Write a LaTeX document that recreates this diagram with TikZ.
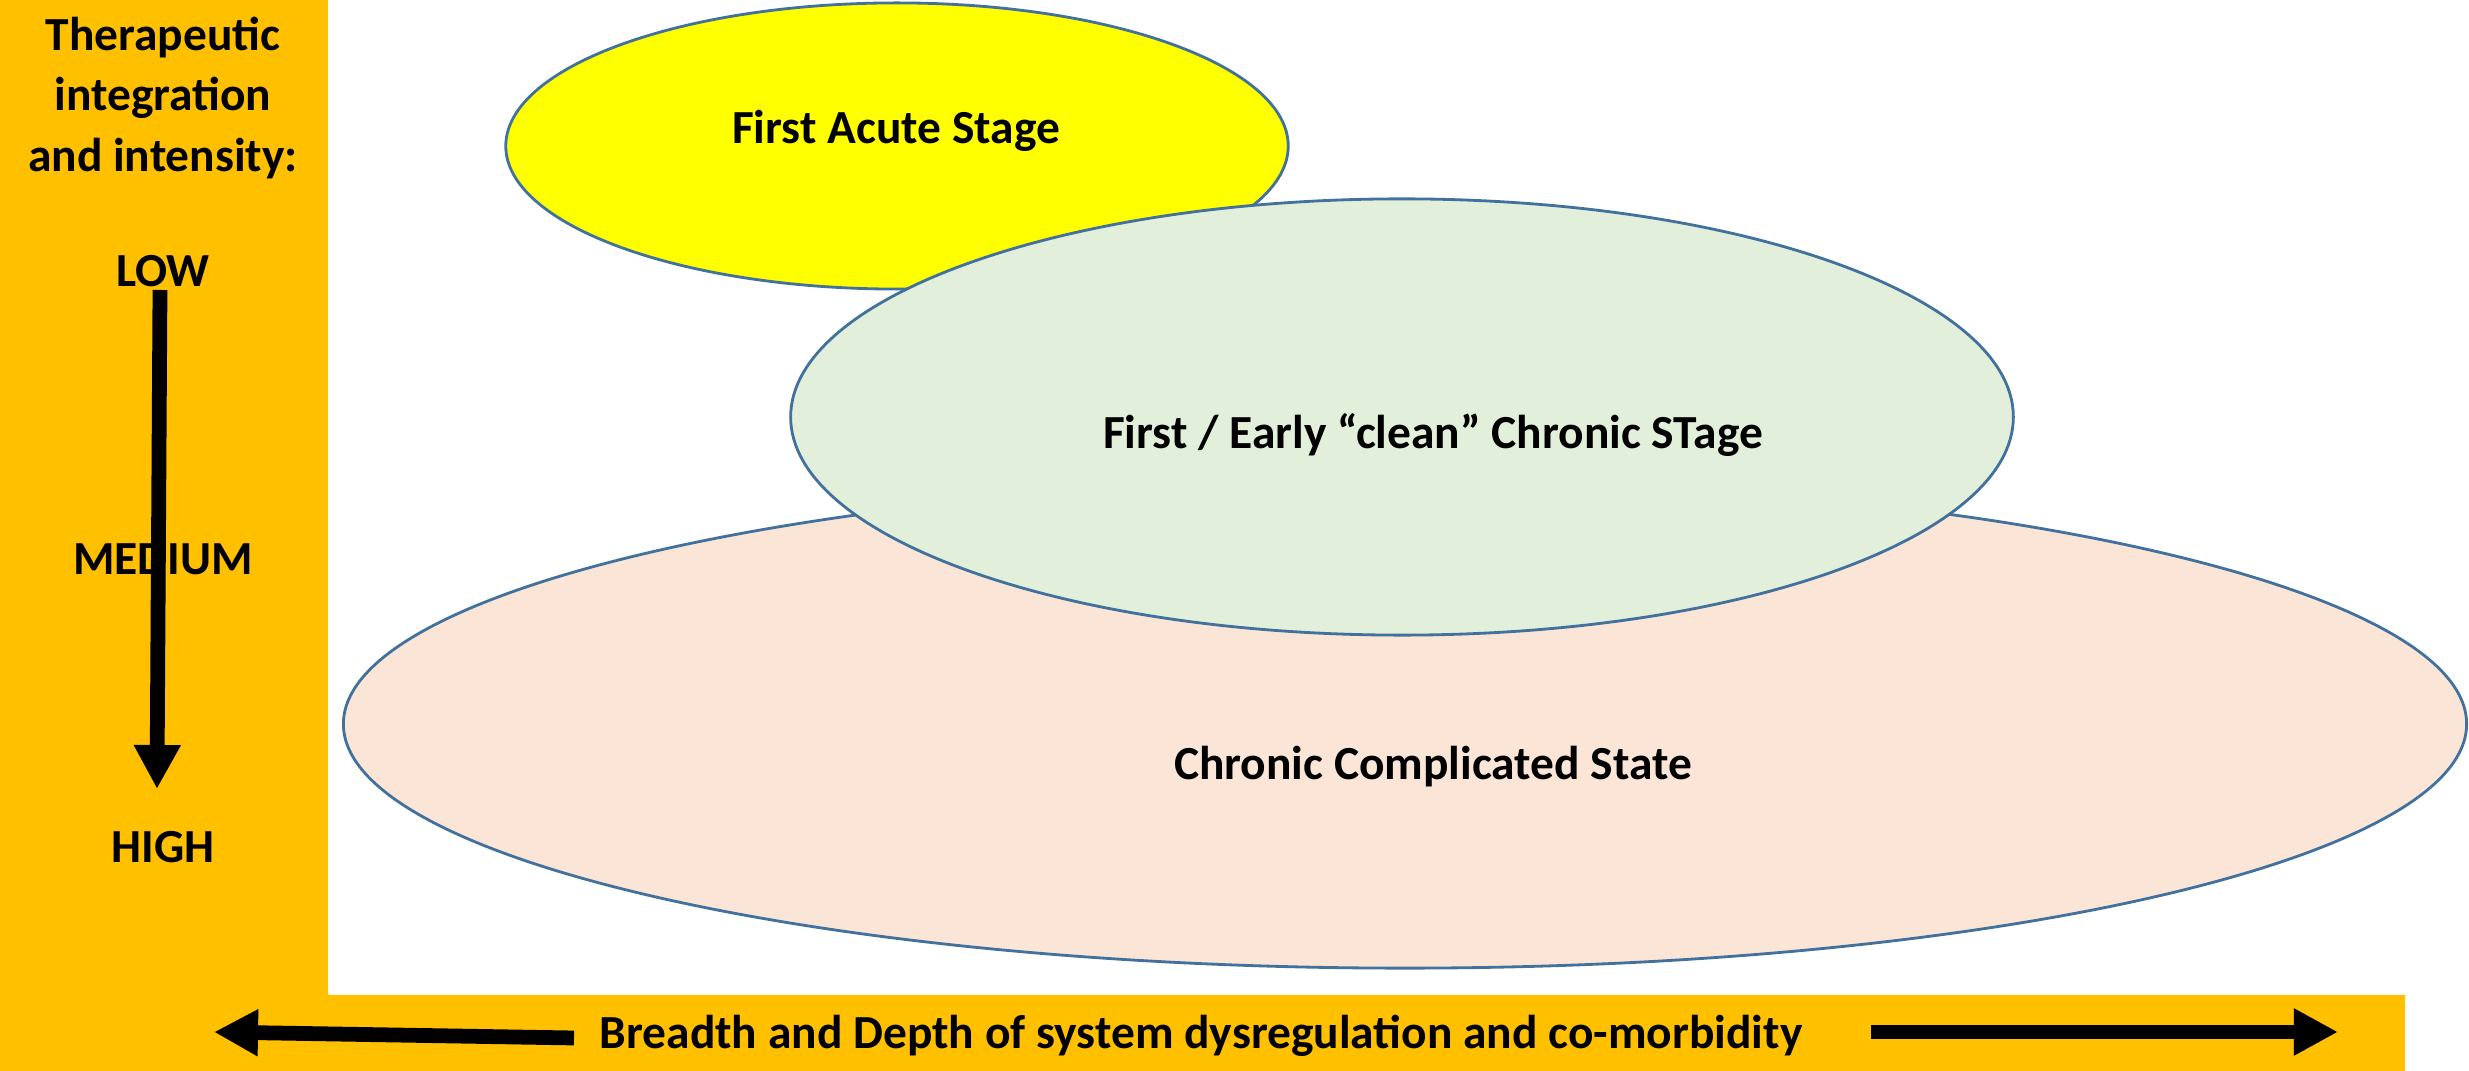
\documentclass[tikz,border=0pt]{standalone}
\usepackage{fontspec}
\setmainfont{Carlito}
\usetikzlibrary{arrows.meta,shapes.geometric}

\definecolor{barorange}{HTML}{FFC000}
\definecolor{acuteyellow}{HTML}{FFFF00}
\definecolor{cleangreen}{HTML}{E2EFDA}
\definecolor{complpeach}{HTML}{FBE5D6}
\definecolor{rimblue}{HTML}{41719C}

\begin{document}
\begin{tikzpicture}[x=0.01cm,y=-0.01cm,font=\bfseries\fontsize{13.5}{17.3}\selectfont]
    \tikzstyle{stage}=[ellipse,draw=rimblue,line width=0.8pt,inner sep=0pt]
    \tikzstyle{level}=[align=center,inner sep=1pt]
    \tikzstyle{fat arrow}=[line width=4.2pt,-{Triangle[width=0.44cm,length=0.44cm]}]

    \useasboundingbox (0,0) rectangle (2469,1071);

    % orange axis bars
    \fill[barorange] (0,0) -- (328,0) -- (328,995) -- (2405,995)
      -- (2405,1071) -- (0,1071) -- cycle;

    % stages, from back to front
    \node[stage,fill=complpeach,minimum width=21.22cm,minimum height=4.88cm] (chronic) at (1405,724) {};
    \node[stage,fill=acuteyellow,minimum width=7.82cm,minimum height=2.86cm] (acute) at (897,146) {};
    \node[stage,fill=cleangreen,minimum width=12.22cm,minimum height=4.36cm] (clean) at (1402,417) {};

    \node (acute-txt) at (896,131) {First Acute Stage};
    \node (clean-txt) at (1433,435) {First / Early “clean” Chronic STage};
    \node (chronic-txt) at (1433,767) {Chronic Complicated State};

    % vertical axis
    \node[level] (title) at (163,98) {Therapeutic\\integration\\and intensity:};
    \node[level] (low) at (163,271) {LOW};
    \node[level] (medium) at (163,559) {MEDIUM};
    \node[level] (high) at (163,847) {HIGH};

    \coordinate (v-top) at (160,290);
    \coordinate (v-tip) at (157,789);
    \draw[fat arrow] (v-top) -- (v-tip);

    % horizontal axis
    \node (breadth) at (1201,1036) {Breadth and Depth of system dysregulation and co-morbidity};
    \coordinate (l-tail) at (574,1038);
    \coordinate (l-tip) at (214,1032);
    \coordinate (r-tail) at (1871,1032);
    \coordinate (r-tip) at (2338,1032);
    \draw[fat arrow] (l-tail) -- (l-tip);
    \draw[fat arrow] (r-tail) -- (r-tip);
\end{tikzpicture}
\end{document}
